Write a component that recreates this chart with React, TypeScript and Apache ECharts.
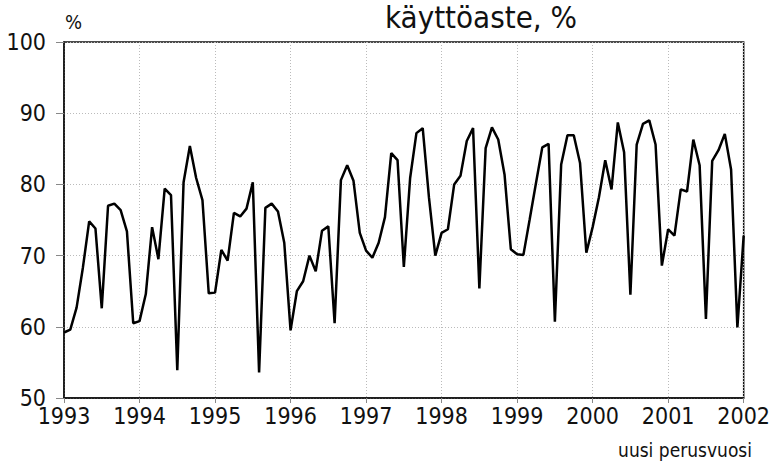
import React, { useEffect, useRef } from "react";
import * as echarts from "echarts";

const startYear = 1993;
const yearTicks = ["1993", "1994", "1995", "1996", "1997", "1998", "1999", "2000", "2001", "2002"];
const yTicks = [50, 60, 70, 80, 90, 100];

const v1993 = [59.2, 59.6, 62.7, 68.3, 74.8, 73.8, 62.6, 77.0, 77.3, 76.4, 73.4, 60.5];
const v1994 = [60.8, 64.6, 74.0, 69.5, 79.4, 78.5, 53.9, 80.3, 85.4, 80.9, 77.8, 64.7];
const v1995 = [64.8, 70.8, 69.3, 76.0, 75.5, 76.6, 80.3, 53.6, 76.7, 77.3, 76.2, 71.8];
const v1996 = [59.5, 65.0, 66.4, 70.0, 67.8, 73.5, 74.1, 60.5, 80.6, 82.7, 80.5, 73.2];
const v1997 = [70.7, 69.7, 71.8, 75.4, 84.4, 83.4, 68.4, 80.9, 87.2, 87.9, 78.1, 70.0];
const v1998 = [73.2, 73.7, 80.0, 81.2, 86.1, 87.9, 65.4, 85.1, 88.0, 86.3, 81.4, 70.9];
const v1999 = [70.2, 70.1, 75.1, 80.2, 85.2, 85.7, 60.7, 82.8, 86.9, 86.9, 83.0, 70.4];
const v2000 = [74.0, 78.2, 83.4, 79.3, 88.7, 84.5, 64.5, 85.6, 88.5, 89.0, 85.6, 68.6];
const v2001 = [73.7, 72.8, 79.3, 79.0, 86.3, 82.7, 61.1, 83.3, 84.8, 87.1, 82.1, 59.9];
const v2002 = [72.8];

const title = "käyttöaste, %";
const unitLabel = "%";
const footNote = "uusi perusvuosi";

const FONT = "'Liberation Sans Narrow', 'DejaVu Sans Condensed', Arial, sans-serif";

export default function App() {
  const ref = useRef<HTMLDivElement>(null);
  useEffect(() => {
    document.body.style.margin = "0";
    const chart = echarts.init(ref.current!, null, { renderer: "svg" });
    const all = [...v1993, ...v1994, ...v1995, ...v1996, ...v1997, ...v1998, ...v1999, ...v2000, ...v2001, ...v2002];
    const data = all.map((v, i) => [i, v]);
    chart.setOption({
      animation: false,
      backgroundColor: "#fff",
      title: {
        text: title,
        left: 476,
        top: -4,
        textAlign: "center",
        textStyle: { fontFamily: FONT, fontSize: 31, fontWeight: "normal", color: "#111" },
      },
      graphic: [
        {
          type: "text",
          left: 65,
          top: 12,
          style: { text: unitLabel, fontFamily: FONT, fontSize: 20, fill: "#111" },
        },
        {
          type: "text",
          right: 21,
          top: 440,
          style: { text: footNote, fontFamily: FONT, fontSize: 19, fill: "#111" },
        },
      ],
      grid: {
        left: 64,
        top: 42,
        width: 681,
        height: 356,
        show: true,
        borderColor: "#111",
        borderWidth: 1.5,
        backgroundColor: "transparent",
      },
      xAxis: {
        type: "value",
        min: 0,
        max: (yearTicks.length - 1) * 12,
        interval: 12,
        axisLine: { show: true, lineStyle: { color: "#111", width: 1.5 } },
        axisTick: { show: true, length: 5, lineStyle: { color: "#888" } },
        axisLabel: {
          margin: 7,
          fontFamily: FONT,
          fontSize: 23,
          lineHeight: 22,
          color: "#111",
          formatter: (v: number) => yearTicks[Math.round(v / 12)] ?? String(startYear + v / 12),
        },
        splitLine: { show: true, lineStyle: { color: "#bbb", type: [1, 2], width: 1 } },
      },
      yAxis: {
        type: "value",
        min: yTicks[0],
        max: yTicks[yTicks.length - 1],
        interval: 10,
        axisLine: { show: true, lineStyle: { color: "#111", width: 1.5 } },
        axisTick: { show: true, length: 8, lineStyle: { color: "#888" } },
        axisLabel: { margin: 18, fontFamily: FONT, fontSize: 23, lineHeight: 18, color: "#111" },
        splitLine: { show: true, lineStyle: { color: "#bbb", type: [1, 2], width: 1 } },
      },
      series: [
        {
          type: "line",
          data,
          showSymbol: false,
          symbol: "none",
          lineStyle: { color: "#000", width: 2.5 },
          silent: true,
        },
      ],
    });
    return () => chart.dispose();
  }, []);
  return <div ref={ref} style={{ position: "absolute", left: 0, top: 0, width: 773, height: 468 }} />;
}
